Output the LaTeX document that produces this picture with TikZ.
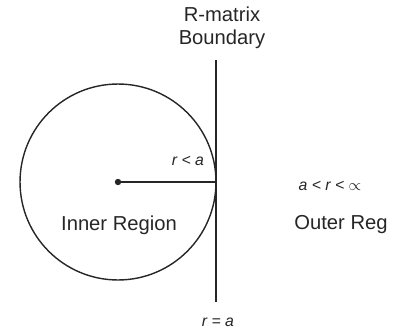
\documentclass[tikz,border=0pt]{standalone}
\usepackage{fontspec}
\setmainfont{Liberation Sans}
\begin{document}
\begin{tikzpicture}[x=0.02cm,y=-0.02cm,
  label/.style={font=\fontsize{11.5}{13}\selectfont,text=black!85},
  small/.style={font=\fontsize{9}{11}\selectfont\itshape,text=black!85}]
  \useasboundingbox (0,0) rectangle (395,335);
  % Inner region
  \node[circle,draw=black!85,thick,minimum size=3.92cm,inner sep=0pt] (sphere) at (118,182) {};
  \fill[black!85] (118,182) circle (3.2) coordinate (centre);
  \coordinate (edge) at (216,182);
  \draw[black!85,thick] (centre) -- (edge);
  \node[small] (rin) at (188,161) {r < a};
  \node[label] (inner) at (119,225) {Inner Region};

  % Boundary
  \coordinate (btop) at (216,60);
  \coordinate (bbot) at (216,302);
  \draw[black!85,thick] (btop) -- (bbot);
  \node[label,align=center] (bound) at (222,28) {R-matrix\\Boundary};
  \node[small] (req) at (218,322) {r = a};

  % Outer region
  \node[small] (rout) at (330,186) {a < r < $\propto$};
  \node[label] (outer) at (341,225) {Outer Reg};
\end{tikzpicture}
\end{document}
